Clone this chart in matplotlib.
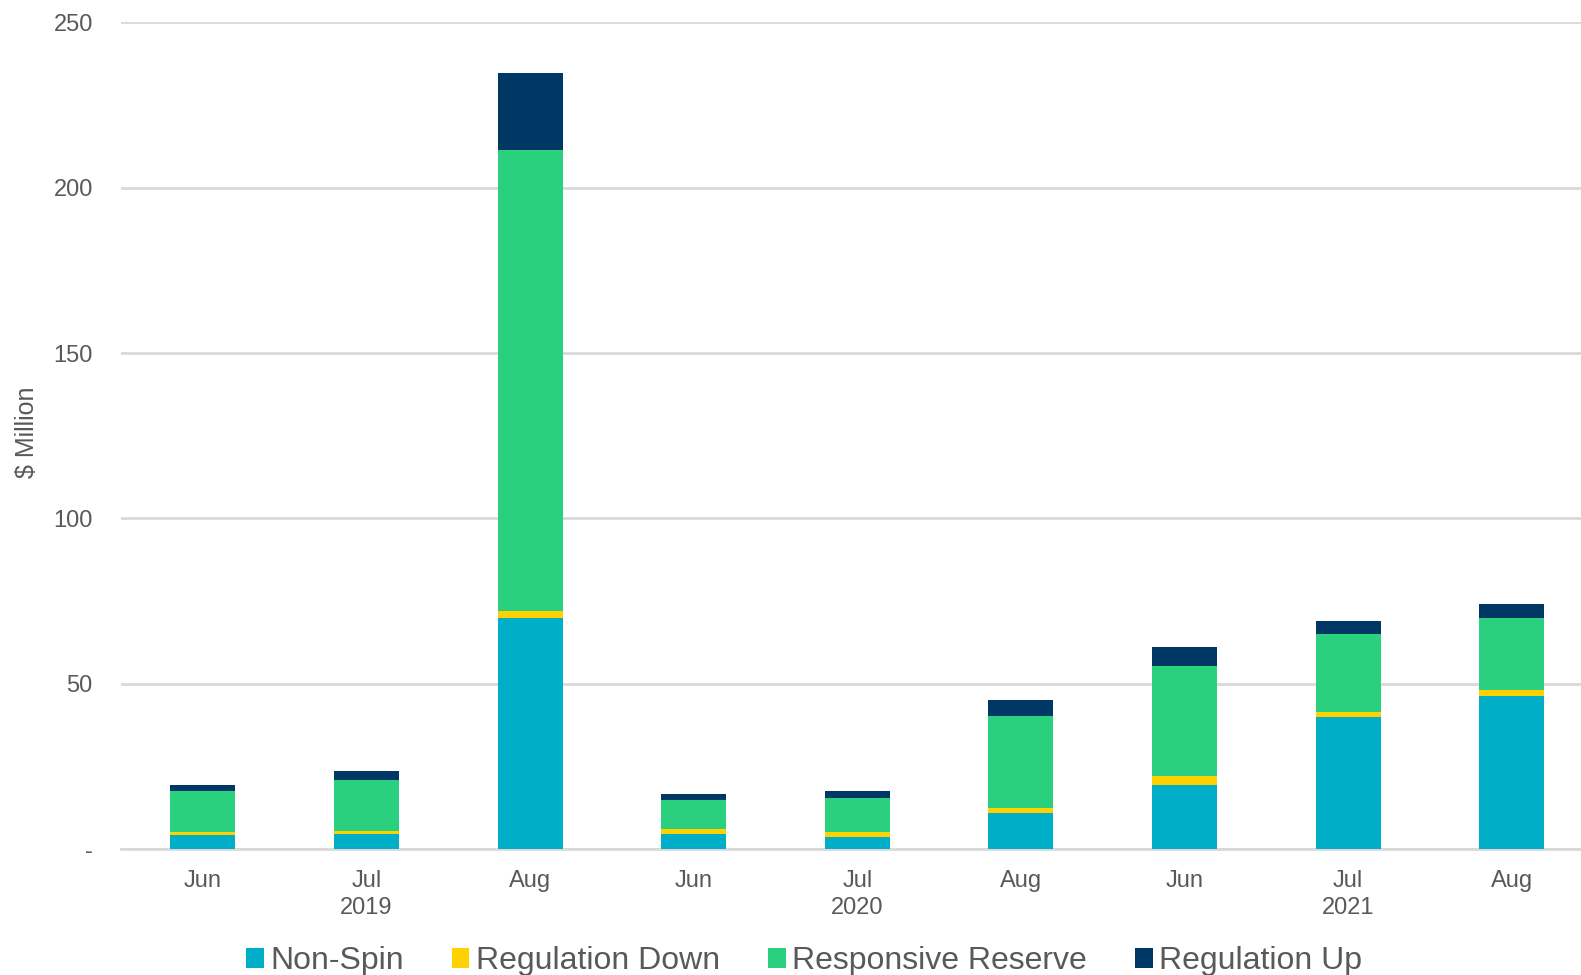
import matplotlib.pyplot as plt
import numpy as np
from matplotlib.ticker import FuncFormatter

# Monthly ancillary service costs ($ Million)
months = ['Jun', 'Jul', 'Aug', 'Jun', 'Jul', 'Aug', 'Jun', 'Jul', 'Aug']
years = ['', '2019', '', '', '2020', '', '', '2021', '']
non_spin = [4.1, 4.5, 70.0, 4.4, 3.5, 10.9, 19.4, 39.8, 46.2]
reg_down = [1.2, 0.9, 1.9, 1.6, 1.6, 1.6, 2.6, 1.5, 2.0]
responsive = [12.1, 15.5, 139.4, 8.9, 10.2, 27.6, 33.2, 23.7, 21.8]
reg_up = [2.1, 2.6, 23.3, 1.8, 2.2, 5.1, 5.8, 4.0, 4.1]

series = [('Non-Spin', non_spin, '#00AEC7'),
          ('Regulation Down', reg_down, '#FFD100'),
          ('Responsive Reserve', responsive, '#2AD07E'),
          ('Regulation Up', reg_up, '#003865')]

plt.rcParams['font.family'] = ['Liberation Sans', 'DejaVu Sans']
text_col = '#595959'
grid_col = '#D9D9D9'

fig = plt.figure(figsize=(15.81, 9.75), dpi=100)
ax = fig.add_axes([0.0763, 0.1292, 0.9237, 0.8479])

x = np.arange(len(months))
bottom = np.zeros(len(months))
for name, vals, col in series:
    ax.bar(x, vals, width=0.397, bottom=bottom, color=col, label=name, zorder=3)
    bottom += np.array(vals)

ax.set_xlim(-0.503, 8.423)
ax.set_ylim(0, 250)
ax.set_yticks([0, 50, 100, 150, 200, 250])
ax.yaxis.set_major_formatter(FuncFormatter(lambda v, p: '-' if v == 0 else '%d' % v))
ax.grid(axis='y', color=grid_col, linewidth=2, zorder=0)
ax.set_xticks(x)
ax.set_xticklabels([m + ('\n' + y if y else '') for m, y in zip(months, years)],
                   linespacing=1.3)
ax.tick_params(axis='both', length=0, labelsize=17, labelcolor=text_col)
ax.tick_params(axis='x', pad=15)
ax.tick_params(axis='y', pad=20)

for s in ['top', 'right', 'left']:
    ax.spines[s].set_visible(False)
ax.spines['bottom'].set_color(grid_col)
ax.spines['bottom'].set_linewidth(2)

ax.set_ylabel('$ Million', fontsize=18, color=text_col)
ax.yaxis.set_label_coords(-0.056, 0.504)

fig.legend(loc='center', bbox_to_anchor=(0.5085, 0.014), ncol=4, frameon=False,
           fontsize=23, handlelength=0.56, handleheight=0.56, handletextpad=0.2,
           columnspacing=1.5, labelcolor=text_col)

plt.savefig('out.png', dpi=100)
